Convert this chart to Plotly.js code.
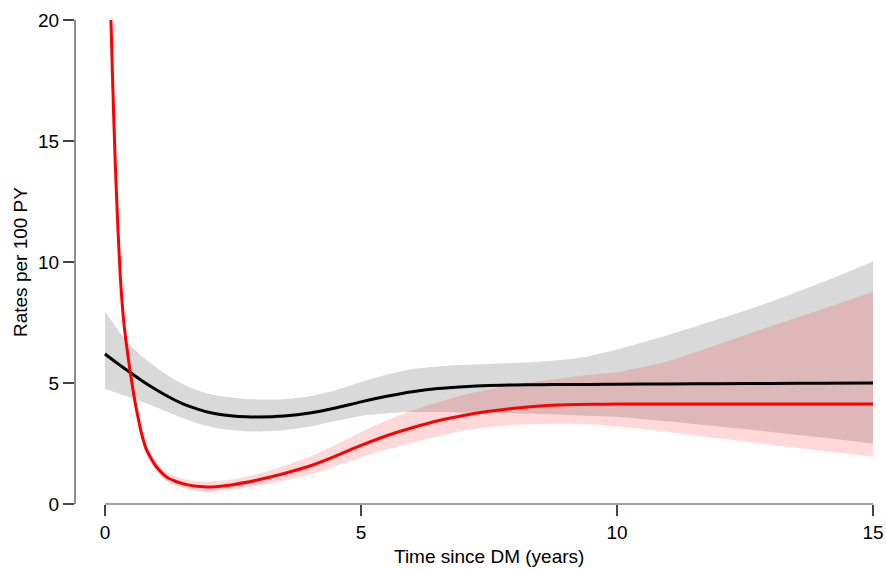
<!DOCTYPE html>
<html>
<head>
<meta charset="utf-8">
<script src="https://cdn.plot.ly/plotly-3.0.1.min.js"></script>
<style>html,body{margin:0;padding:0;background:#fff;}#chart{width:886px;height:569px;}</style>
</head>
<body>
<div id="chart"></div>
<script>
// ---- data ----
var blackX = [0, 0.25, 0.5, 0.75, 1, 1.25, 1.5, 1.75, 2, 2.25, 2.5, 2.75, 3, 3.5, 4, 4.5, 5, 5.5, 6, 6.5, 7, 7.5, 8, 8.5, 9, 9.5, 10, 11, 12, 13, 14, 15];
var blackMean = [6.2, 5.8, 5.42, 5.05, 4.72, 4.42, 4.16, 3.96, 3.8, 3.7, 3.64, 3.61, 3.6, 3.64, 3.76, 3.97, 4.22, 4.45, 4.64, 4.77, 4.85, 4.9, 4.92, 4.93, 4.94, 4.94, 4.95, 4.96, 4.97, 4.98, 4.99, 5.0];
var blackLow  = [4.75, 4.58, 4.4, 4.2, 4.0, 3.78, 3.56, 3.37, 3.22, 3.11, 3.05, 3.01, 3.0, 3.05, 3.2, 3.43, 3.64, 3.75, 3.8, 3.8, 3.78, 3.76, 3.74, 3.72, 3.68, 3.64, 3.6, 3.42, 3.2, 2.98, 2.75, 2.5];
var blackHigh = [7.95, 7.2, 6.55, 6.05, 5.65, 5.28, 4.98, 4.74, 4.57, 4.46, 4.39, 4.34, 4.32, 4.33, 4.45, 4.7, 5.04, 5.35, 5.57, 5.68, 5.75, 5.79, 5.83, 5.88, 5.97, 6.13, 6.38, 6.98, 7.65, 8.35, 9.15, 10.02];

var redX = [0.1, 0.15, 0.2, 0.25, 0.3, 0.35, 0.4, 0.45, 0.5, 0.55, 0.6, 0.65, 0.7, 0.8, 0.9, 1.0, 1.2, 1.4, 1.6, 1.8, 2.0, 2.5, 3.0, 3.5, 4.0, 4.5, 5.0, 5.5, 6.0, 6.5, 7.0, 7.5, 8.0, 8.5, 9.0, 9.5, 10, 11, 12, 13, 14, 15];
var redMean = [21.2, 17.4, 14.1, 11.5, 9.35, 7.9, 6.9, 6.1, 5.35, 4.68, 4.06, 3.53, 3.03, 2.3, 1.88, 1.55, 1.12, 0.92, 0.8, 0.73, 0.7, 0.8, 1.0, 1.26, 1.57, 1.98, 2.42, 2.82, 3.15, 3.44, 3.66, 3.83, 3.96, 4.05, 4.1, 4.12, 4.13, 4.13, 4.13, 4.13, 4.13, 4.13];
var redLow  = [20.4, 16.7, 13.5, 11.0, 8.9, 7.5, 6.55, 5.78, 5.05, 4.4, 3.8, 3.29, 2.81, 2.1, 1.7, 1.38, 0.95, 0.74, 0.62, 0.54, 0.5, 0.6, 0.75, 0.97, 1.2, 1.56, 1.93, 2.25, 2.53, 2.8, 3.03, 3.18, 3.27, 3.31, 3.32, 3.28, 3.2, 2.98, 2.72, 2.45, 2.2, 1.95];
var redHigh = [22.0, 18.1, 14.7, 12.0, 9.8, 8.3, 7.25, 6.42, 5.67, 4.98, 4.34, 3.8, 3.27, 2.52, 2.09, 1.75, 1.32, 1.12, 1.0, 0.94, 0.92, 1.02, 1.25, 1.58, 1.95, 2.45, 2.98, 3.45, 3.86, 4.2, 4.5, 4.74, 4.94, 5.08, 5.22, 5.34, 5.45, 5.9, 6.62, 7.35, 8.05, 8.77];

var xTicks = [0, 5, 10, 15];
var yTicks = [0, 5, 10, 15, 20];
var xTitle = "Time since DM (years)";
var yTitle = "Rates per 100 PY";

// ---- helpers ----
var smoothLine = {width: 0, color: 'rgba(0,0,0,0)', shape: 'spline', smoothing: 0.6};
function bandTraces(x, lo, hi, color) {
  return [
    {x: x, y: lo, type: 'scatter', mode: 'lines', line: smoothLine, hoverinfo: 'skip', showlegend: false},
    {x: x, y: hi, type: 'scatter', mode: 'lines', fill: 'tonexty', fillcolor: color, line: smoothLine,
     hoverinfo: 'skip', showlegend: false}
  ];
}
function curve(x, y, color) {
  return {x: x, y: y, type: 'scatter', mode: 'lines', line: {color: color, width: 3, shape: 'spline', smoothing: 0.6},
          hoverinfo: 'skip', showlegend: false};
}

var traces = []
  .concat(bandTraces(blackX, blackLow, blackHigh, 'rgb(217,217,217)'))
  .concat(bandTraces(redX, redLow, redHigh, 'rgba(255,0,0,0.15)'))
  .concat([curve(blackX, blackMean, '#000000'), curve(redX, redMean, '#ff0000')]);

var axisColor = '#444';
var fontFam = '"Liberation Sans", Arial, sans-serif';
var fs = 19;

var layout = {
  width: 886, height: 569,
  margin: {l: 75, r: 0, t: 20, b: 65, pad: 0},
  paper_bgcolor: '#fff', plot_bgcolor: '#fff',
  showlegend: false,
  font: {family: fontFam, size: fs, color: '#000'},
  xaxis: {
    range: [-0.586, 15.254], tickvals: xTicks, ticktext: xTicks.map(String),
    ticks: 'outside', ticklen: 11, tickwidth: 1.2, tickcolor: axisColor,
    showline: false, showgrid: false, zeroline: false,
    tickfont: {family: fontFam, size: fs, color: '#000'}
  },
  yaxis: {
    range: [0, 20], tickvals: yTicks, ticktext: yTicks.map(String),
    ticks: 'outside', ticklen: 11, tickwidth: 1.2, tickcolor: axisColor,
    showline: false, showgrid: false, zeroline: false,
    tickfont: {family: fontFam, size: fs, color: '#000'}
  },
  shapes: [
    {type: 'line', xref: 'x', yref: 'paper', x0: xTicks[0], x1: xTicks[xTicks.length - 1], y0: 0, y1: 0,
     line: {color: axisColor, width: 1.2}},
    {type: 'line', xref: 'paper', yref: 'y', x0: 0, x1: 0, y0: yTicks[0], y1: yTicks[yTicks.length - 1],
     line: {color: axisColor, width: 1.2}}
  ],
  annotations: [
    {text: xTitle, xref: 'x', yref: 'paper', x: 7.5, y: -0.1095, xanchor: 'center', yanchor: 'middle',
     showarrow: false, font: {family: fontFam, size: fs, color: '#000'}},
    {text: yTitle, xref: 'paper', yref: 'paper', x: -0.0678, y: 0.5, xanchor: 'center', yanchor: 'middle',
     textangle: -90, showarrow: false, font: {family: fontFam, size: fs, color: '#000'}}
  ]
};

Plotly.newPlot('chart', traces, layout, {staticPlot: true, displayModeBar: false});
</script>
</body>
</html>
